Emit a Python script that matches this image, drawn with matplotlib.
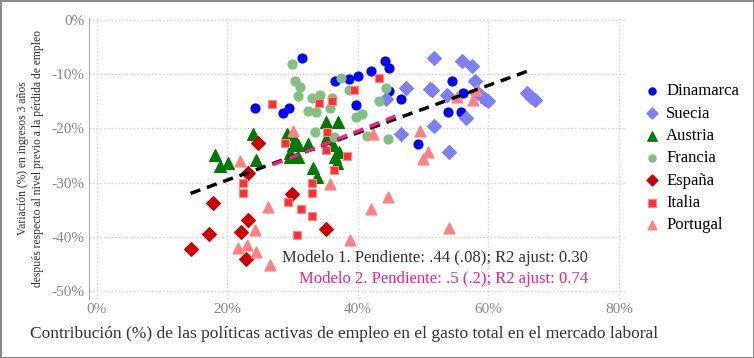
import matplotlib
matplotlib.use("Agg")
import matplotlib.pyplot as plt

plt.rcParams['font.family'] = ['Liberation Serif', 'DejaVu Serif']

# data (x: % ALMP in labour market spending, y: % income change)
dinamarca_x = [31.4, 24.3, 29.5, 28.6, 44.2, 44.8, 42.0, 40.1, 38.7, 36.6, 44.8, 46.7, 39.7, 49.3, 54.4, 56.2, 53.9, 55.8, 59.3]
dinamarca_y = [-7.0, -16.2, -16.3, -17.2, -7.5, -8.8, -9.3, -10.3, -10.9, -11.2, -13.1, -14.6, -15.7, -22.8, -11.2, -13.4, -16.9, -17.0, -14.5]

suecia_x = [51.7, 56.0, 57.5, 57.9, 47.4, 51.1, 51.4, 53.7, 58.4, 59.5, 59.9, 65.9, 66.5, 67.2, 56.6, 51.7, 46.6, 54.0, 44.3]
suecia_y = [-7.0, -7.5, -8.4, -11.2, -12.5, -12.7, -12.9, -13.8, -13.4, -14.5, -14.9, -13.4, -14.2, -14.7, -18.1, -19.5, -21.0, -24.3, -14.6]

austria_x = [24.0, 29.2, 30.1, 30.9, 32.4, 30.4, 29.6, 30.9, 29.6, 18.2, 20.1, 18.9, 24.4, 35.1, 37.0, 35.3, 36.2, 37.2, 36.5, 36.8, 33.2, 33.8]
austria_y = [-21.0, -21.1, -23.0, -23.0, -22.8, -22.1, -24.6, -25.3, -25.3, -24.9, -26.4, -27.0, -25.8, -18.8, -18.8, -21.6, -23.1, -24.3, -25.3, -26.3, -27.3, -29.0]

francia_x = [30.0, 30.4, 31.1, 30.8, 33.0, 34.2, 36.0, 32.4, 33.6, 35.7, 37.5, 38.6, 39.7, 40.6, 44.3, 43.3, 33.5, 36.3, 41.5, 44.7]
francia_y = [-8.1, -11.2, -12.3, -14.0, -14.4, -13.9, -14.3, -16.7, -17.0, -16.3, -10.6, -12.8, -17.9, -17.3, -12.5, -14.9, -20.6, -21.6, -21.3, -22.0]

espana_x = [24.7, 23.2, 17.9, 23.2, 22.2, 17.3, 14.4, 22.9, 29.9, 35.2]
espana_y = [-22.6, -28.3, -33.8, -36.9, -39.1, -39.5, -42.3, -44.2, -32.2, -38.6]

italia_x = [26.8, 34.0, 36.1, 39.4, 43.3, 35.3, 28.8, 35.1, 38.4, 36.4, 22.4, 22.4, 33.0, 33.0, 29.3, 31.3, 33.0, 30.7]
italia_y = [-15.5, -15.3, -14.9, -12.8, -10.6, -20.6, -22.6, -23.9, -25.0, -27.7, -30.1, -31.9, -30.1, -31.9, -33.5, -34.9, -36.1, -39.6]

portugal_x = [22.0, 30.1, 42.3, 49.5, 50.8, 50.0, 55.2, 57.6, 58.1, 26.2, 24.2, 23.1, 21.6, 24.5, 26.5, 35.7, 44.6, 42.1, 54.0, 38.8]
portugal_y = [-26.0, -20.5, -21.0, -20.5, -24.4, -25.6, -14.2, -14.7, -12.9, -34.6, -38.8, -41.5, -42.1, -42.9, -45.3, -30.3, -32.7, -34.8, -38.4, -40.6]

# fitted lines (ends)
modelo1_x = [14.4, 66.5]
modelo1_y = [-32.0, -9.2]
modelo2_x = [27.0, 46.7]
modelo2_y = [-26.7, -17.3]

xticks = [0, 20, 40, 60, 80]
yticks = [0, -10, -20, -30, -40, -50]

fig = plt.figure(figsize=(7.54, 3.58), dpi=100)
fig.patch.set_edgecolor('#8a8a8a')
fig.patch.set_linewidth(2)
ax = fig.add_axes([0.1176, 0.165, 0.7136, 0.786])

ax.scatter(dinamarca_x, dinamarca_y, s=40, marker='o', color='#0000ff', label='Dinamarca', zorder=3)
ax.scatter(suecia_x, suecia_y, s=48, marker='D', color='#7f7ff5', label='Suecia', zorder=3)
ax.scatter(austria_x, austria_y, s=70, marker='^', color='#007a00', label='Austria', zorder=3)
ax.scatter(francia_x, francia_y, s=40, marker='o', color='#80c080', label='Francia', zorder=3)
ax.scatter(espana_x, espana_y, s=48, marker='D', color='#cc0000', label='España', zorder=3)
ax.scatter(italia_x, italia_y, s=40, marker='s', color='#ff3030', edgecolor='#ff8888', linewidth=0.8, label='Italia', zorder=3)
ax.scatter(portugal_x, portugal_y, s=60, marker='^', color='#ff8080', label='Portugal', zorder=3)

ax.plot(modelo1_x, modelo1_y, color='black', linestyle=(0, (3, 2)), linewidth=2.5, zorder=4)
ax.plot(modelo2_x, modelo2_y, color='#ff1a8c', linestyle=(0, (3, 2)), linewidth=2.5, zorder=4)

ax.text(75.3, -43.9, 'Modelo 1. Pendiente: .44 (.08); R2 ajust: 0.30', ha='right', va='center', fontsize=12, color='#333333')
ax.text(75.3, -47.9, 'Modelo 2. Pendiente: .5 (.2); R2 ajust: 0.74', ha='right', va='center', fontsize=12, color='#ff1a8c')

ax.set_xlim(-1.2, 81.2)
ax.set_ylim(-51.5, 0.5)
ax.set_xticks(xticks)
ax.set_xticklabels([str(t) + '%' for t in xticks])
ax.set_yticks(yticks)
ax.set_yticklabels([str(t) + '%' for t in yticks])
ax.tick_params(length=0, labelsize=11, colors='#888888', pad=3)
ax.grid(True, linestyle=':', color='#d0d0d0', linewidth=1)
for side in ['top', 'right', 'bottom']:
    ax.spines[side].set_visible(False)
ax.spines['left'].set_color('#aaaaaa')

ax.set_xlabel('Contribución (%) de las políticas activas de empleo en el gasto total en el mercado laboral', fontsize=12.5, color='#333333')
ax.xaxis.set_label_coords(0.475, -0.095)
ax.set_ylabel('Variación (%) en ingresos 3 años\ndespués respecto al nivel previo a la pérdida de empleo', fontsize=8.4, color='#333333', linespacing=1.3)
ax.yaxis.set_label_coords(-0.083, 0.5)

ax.legend(loc='upper left', bbox_to_anchor=(1.02, 0.79), frameon=False, fontsize=12, handlelength=1.0, handletextpad=0.33, labelspacing=0.38, markerscale=0.8, borderaxespad=0)

fig.savefig('out.png', dpi=100)
